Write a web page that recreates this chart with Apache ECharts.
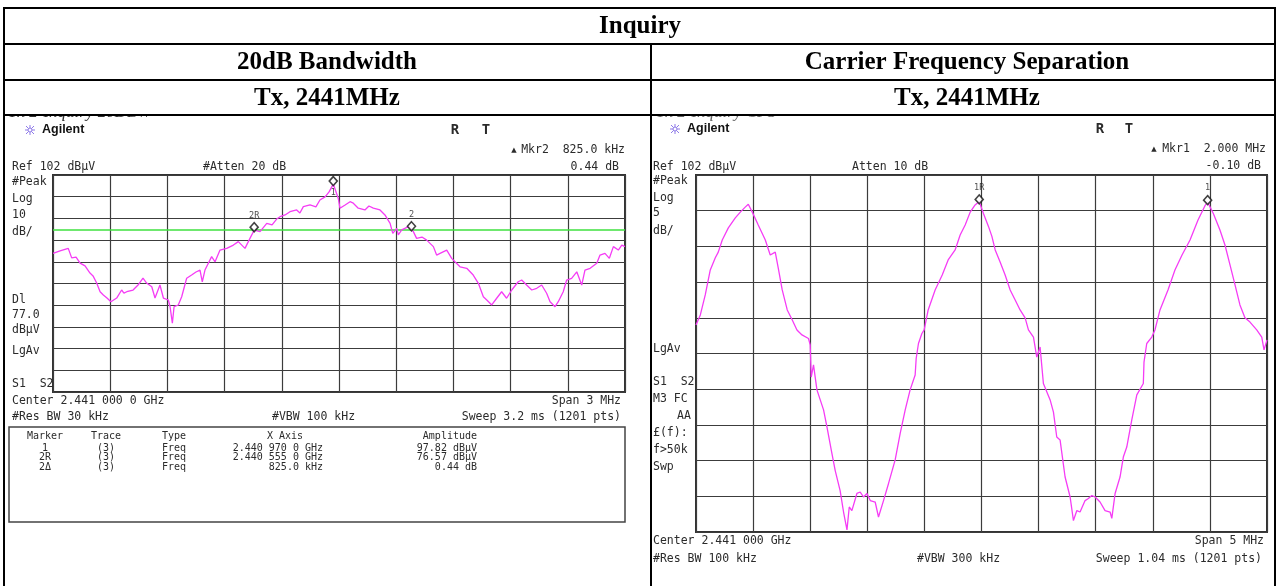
<!DOCTYPE html>
<html>
<head>
<meta charset="utf-8">
<script src="https://cdn.jsdelivr.net/npm/echarts@6/dist/echarts.min.js"></script>
<style>
  html, body { margin: 0; padding: 0; background: #fff; }
  #chart { width: 1278px; height: 586px; }
</style>
</head>
<body>
<div id="chart"></div>
<script>
// 20 dB bandwidth sweep: offset from 2.441 GHz centre (kHz) and level (dBµV)
const bwFreq = [-1500,-1463,-1420,-1402,-1379,-1358,-1332,-1306,-1290,-1271,
  -1253,-1236,-1217,-1196,-1166,-1140,-1128,-1113,-1080,-1054,
  -1028,-1009,-982,-965,-939,-921,-895,-886,-874,-865,
  -843,-825,-799,-773,-750,-729,-717,-703,-668,-650,
  -624,-589,-554,-528,-493,-467,-445,-414,-379,-351,
  -327,-309,-283,-257,-222,-205,-187,-152,-121,-100,
  -73,-52,-30,-4,5,32,58,75,101,136,
  157,180,215,241,268,282,303,311,329,364,
  380,390,407,435,460,495,512,530,565,591,
  608,635,670,704,731,757,775,801,827,853,
  879,906,940,958,984,1011,1037,1063,1089,1107,
  1133,1150,1176,1194,1220,1247,1273,1290,1317,1352,
  1369,1395,1418,1439,1465,1483,1500];
const bwLevel = [65.9,67.0,68.2,63.8,64.2,61.4,60.1,56.8,55.5,52.2,
  48.2,46.7,45.3,43.6,45.3,49.0,47.6,48.2,49.0,51.3,
  54.5,52.2,50.5,45.3,51.3,45.3,44.4,41.3,33.7,41.3,
  42.1,45.9,54.4,55.9,57.3,58.2,52.8,58.2,64.4,62.0,
  67.4,68.2,69.7,71.3,68.2,72.8,76.57,75.9,79.7,79.0,
  81.7,82.8,83.6,85.1,85.9,84.5,87.4,88.2,87.3,90.5,
  91.9,94.2,97.82,91.3,86.7,88.2,89.7,89.0,86.7,85.9,
  87.7,86.7,85.9,83.6,79.7,75.1,77.4,74.4,76.7,78.2,
  77.01,75.9,72.8,73.4,72.0,69.0,65.1,65.9,67.4,63.6,
  62.0,59.7,59.0,55.9,52.1,45.9,44.4,42.1,45.2,48.2,
  45.2,49.0,52.8,53.6,51.3,49.0,49.8,51.3,47.5,43.6,
  41.3,43.6,48.2,53.6,54.4,57.4,51.3,58.2,59.0,61.3,
  65.1,65.9,63.6,69.0,67.4,69.7,69.0];

// Carrier frequency separation sweep: offset from 2.441 GHz (kHz) and level (dBµV)
const sepFreq = [-2500,-2462,-2419,-2375,-2331,-2305,-2270,-2217,-2156,-2112,
  -2069,-2042,-2007,-1955,-1893,-1850,-1806,-1780,-1745,-1701,
  -1657,-1616,-1572,-1515,-1500,-1491,-1471,-1441,-1383,-1353,
  -1310,-1281,-1238,-1208,-1178,-1158,-1135,-1091,-1062,-1033,
  -1003,-974,-931,-902,-858,-814,-756,-712,-668,-625,
  -581,-572,-552,-522,-502,-467,-406,-344,-292,-231,
  -187,-143,-99,-56,-20,17,61,91,120,163,
  207,251,295,338,382,411,455,484,513,542,
  557,601,630,659,688,732,776,805,835,863,
  907,936,966,995,1038,1082,1126,1141,1170,1213,
  1242,1272,1316,1360,1417,1423,1447,1491,1519,1563,
  1633,1694,1756,1826,1896,1957,1980,2030,2088,2132,
  2176,2220,2263,2307,2351,2410,2454,2474,2500];
const sepLevel = [81.0,82.4,85.2,88.7,90.4,91.2,92.9,94.6,96.0,96.8,
  97.5,97.9,96.8,95.0,92.9,90.8,91.2,89.0,85.9,83.1,
  81.7,80.3,79.6,79.1,78.2,73.7,75.4,71.9,69.1,66.7,
  63.0,60.6,57.8,54.8,52.3,55.5,55.0,57.4,57.6,56.9,
  57.4,56.4,56.2,54.1,56.4,58.8,62.1,65.8,69.1,71.9,
  74.0,76.3,78.4,79.8,80.3,83.1,85.9,88.0,90.1,91.5,
  93.6,95.0,96.8,97.8,98.3,96.6,94.8,93.4,91.5,89.8,
  88.0,85.9,84.5,83.1,82.0,80.3,79.3,76.5,77.9,72.8,
  73.0,70.5,68.8,65.3,64.9,59.7,56.9,53.6,55.0,54.8,
  56.4,56.7,57.1,56.9,56.2,55.0,54.8,53.9,57.4,59.7,
  62.5,63.9,67.7,71.2,72.8,75.8,78.4,79.3,80.3,83.1,
  85.9,88.7,90.8,92.9,95.7,97.7,98.2,96.6,94.3,92.2,
  89.4,86.6,83.8,82.0,81.4,80.3,79.3,77.5,78.9];

// Markers
const bwMarkerNames = ['2R', '1', '2'];
const bwMarkerFreq = [-445, -30, 380];
const bwMarkerLevel = [76.57, 97.82, 77.01];
const sepMarkerNames = ['1R', '1'];
const sepMarkerFreq = [-20, 1980];
const sepMarkerLevel = [98.30, 98.20];
const bwDisplayLine = 77.0;

// Analyzer scale settings
const bwRef = 102, bwDiv = 10, bwSpan = 3000, bwFreqDiv = 300;
const sepRef = 102, sepDiv = 5, sepSpan = 5000, sepFreqDiv = 500;

// Marker table rows
const markerTable = [
  ['Marker', 'Trace', 'Type', 'X Axis', 'Amplitude'],
  ['1', '(3)', 'Freq', '2.440 970 0 GHz', '97.82 dBµV'],
  ['2R', '(3)', 'Freq', '2.440 555 0 GHz', '76.57 dBµV'],
  ['2\u0394', '(3)', 'Freq', '825.0 kHz', '0.44 dB']
];

const MONO = '11.5px "DejaVu Sans Mono"';
const SMALL = '10px "DejaVu Sans Mono"';
const INK = '#2b2b2b';
const TRACE = '#f53cf5';

function txt(x, y, s, o) {
  o = o || {};
  return {
    type: 'text', x: x, y: y, z: o.z || 20, silent: true,
    style: {
      text: s, fill: o.fill || INK, font: o.font || MONO,
      textAlign: o.align || 'left', textVerticalAlign: 'middle', verticalAlign: 'middle'
    }
  };
}
function hline(x1, x2, y, w, c) {
  return { type: 'line', z: 30, silent: true, shape: { x1: x1, y1: y, x2: x2, y2: y }, style: { stroke: c || '#000', lineWidth: w } };
}
function vline(x, y1, y2, w, c) {
  return { type: 'line', z: 30, silent: true, shape: { x1: x, y1: y1, x2: x, y2: y2 }, style: { stroke: c || '#000', lineWidth: w } };
}
function logo(cx, cy) {
  const els = [];
  const c = '#8f7be8';
  [[-5, 0, 5, 0], [0, -5, 0, 5], [-4, -4, 4, 4], [-4, 4, 4, -4]].forEach(function (p) {
    els.push({ type: 'line', z: 20, silent: true, shape: { x1: cx + p[0], y1: cy + p[1], x2: cx + p[2], y2: cy + p[3] }, style: { stroke: c, lineWidth: 1 } });
  });
  els.push({ type: 'circle', z: 21, silent: true, shape: { cx: cx, cy: cy, r: 2 }, style: { fill: '#fff', stroke: c, lineWidth: 1 } });
  return els;
}

const HEAD = 'bold 25px "Liberation Serif"';

const graphics = [
  // table frame
  hline(3, 1276, 8, 2), hline(3, 1276, 44, 2), hline(3, 1276, 80, 2), hline(3, 1276, 115, 2),
  vline(4, 7, 586, 2), vline(1275, 7, 586, 2), vline(651, 44, 586, 2),
  txt(640, 27, 'Inquiry', { font: HEAD, align: 'center', fill: '#000' }),
  txt(327, 63, '20dB Bandwidth', { font: HEAD, align: 'center', fill: '#000' }),
  txt(967, 63, 'Carrier Frequency Separation', { font: HEAD, align: 'center', fill: '#000' }),
  txt(327, 99, 'Tx, 2441MHz', { font: HEAD, align: 'center', fill: '#000' }),
  txt(967, 99, 'Tx, 2441MHz', { font: HEAD, align: 'center', fill: '#000' }),
  // screenshot captions, mostly hidden under the row line
  txt(8, 113, 'Tx 2-Inquiry 20DBW', { font: 'italic 17px "Liberation Serif"', fill: '#333', z: 5 }),
  txt(656, 113, 'Tx 2-Inquiry CFS', { font: 'italic 17px "Liberation Serif"', fill: '#666', z: 5 }),
  { type: 'rect', z: 6, silent: true, shape: { x: 5, y: 96, width: 210, height: 20 }, style: { fill: '#fff' } },
  { type: 'rect', z: 6, silent: true, shape: { x: 653, y: 96, width: 200, height: 20 }, style: { fill: '#fff' } },

  // ---- left analyzer screen ----
  txt(42, 130, 'Agilent', { font: 'bold 12.5px "Liberation Sans"', fill: '#111' }),
  txt(455, 130, 'R', { font: 'bold 14px "DejaVu Sans Mono"', align: 'center' }),
  txt(486, 130, 'T', { font: 'bold 14px "DejaVu Sans Mono"', align: 'center' }),
  txt(514, 150, '\u25B2', { font: '7px "DejaVu Sans"', align: 'center' }),
  txt(625, 150, 'Mkr2  825.0 kHz', { align: 'right' }),
  txt(619, 167, '0.44 dB', { align: 'right' }),
  txt(12, 167, 'Ref 102 dBµV'),
  txt(203, 167, '#Atten 20 dB'),
  txt(12, 182, '#Peak'), txt(12, 199, 'Log'), txt(12, 215, '10'), txt(12, 232, 'dB/'),
  txt(12, 300, 'Dl'), txt(12, 315, '77.0'), txt(12, 330, 'dBµV'), txt(12, 351, 'LgAv'),
  txt(12, 384, 'S1  S2'),
  txt(12, 401.5, 'Center 2.441 000 0 GHz'),
  txt(621, 401.5, 'Span 3 MHz', { align: 'right' }),
  txt(12, 417, '#Res BW 30 kHz'),
  txt(272, 417, '#VBW 100 kHz'),
  txt(621, 417, 'Sweep 3.2 ms (1201 pts)', { align: 'right' }),
  { type: 'rect', z: 15, silent: true, shape: { x: 9, y: 427, width: 616, height: 95 }, style: { fill: 'none', stroke: '#444', lineWidth: 1.5 } },

  // ---- right analyzer screen ----
  txt(687, 129, 'Agilent', { font: 'bold 12.5px "Liberation Sans"', fill: '#111' }),
  txt(1100, 129, 'R', { font: 'bold 14px "DejaVu Sans Mono"', align: 'center' }),
  txt(1129, 129, 'T', { font: 'bold 14px "DejaVu Sans Mono"', align: 'center' }),
  txt(1154, 149, '\u25B2', { font: '7px "DejaVu Sans"', align: 'center' }),
  txt(1266, 149, 'Mkr1  2.000 MHz', { align: 'right' }),
  txt(1261, 166, '-0.10 dB', { align: 'right' }),
  txt(653, 167, 'Ref 102 dBµV'),
  txt(852, 167, 'Atten 10 dB'),
  txt(653, 181, '#Peak'), txt(653, 198, 'Log'), txt(653, 213, '5'), txt(653, 231, 'dB/'),
  txt(653, 349, 'LgAv'), txt(653, 382, 'S1  S2'), txt(653, 399, 'M3 FC'), txt(677, 416, 'AA'),
  txt(653, 433, '£(f):'), txt(653, 450, 'f>50k'), txt(653, 467, 'Swp'),
  txt(653, 541.5, 'Center 2.441 000 GHz'),
  txt(1264, 541.5, 'Span 5 MHz', { align: 'right' }),
  txt(653, 559, '#Res BW 100 kHz'),
  txt(917, 559, '#VBW 300 kHz'),
  txt(1262, 559, 'Sweep 1.04 ms (1201 pts)', { align: 'right' })
].concat(logo(30, 130), logo(675, 129));

// marker table text
const colX = [45, 106, 162, 323, 477];
const colAlign = ['center', 'center', 'left', 'right', 'right'];
const rowY = [436, 448, 457.5, 467];
markerTable.forEach(function (row, r) {
  row.forEach(function (cell, c) {
    let x = colX[c], a = colAlign[c];
    if (r === 0 && c === 3) { x = 285; a = 'center'; }
    graphics.push(txt(x, rowY[r], cell, { font: SMALL, align: a }));
  });
});

function pairs(xs, ys) { return xs.map(function (x, i) { return [x, ys[i]]; }); }

function axisPair(gi, span, fdiv, ref, div) {
  const split = { show: true, lineStyle: { color: '#3c3c3c', width: 1.2 } };
  return {
    x: { gridIndex: gi, type: 'value', min: -span / 2, max: span / 2, interval: fdiv,
         axisLabel: { show: false }, axisTick: { show: false }, axisLine: { show: false }, splitLine: split },
    y: { gridIndex: gi, type: 'value', min: ref - 10 * div, max: ref, interval: div,
         axisLabel: { show: false }, axisTick: { show: false }, axisLine: { show: false }, splitLine: split }
  };
}
const axL = axisPair(0, bwSpan, bwFreqDiv, bwRef, bwDiv);
const axR = axisPair(1, sepSpan, sepFreqDiv, sepRef, sepDiv);

function markerSeries(xi, names, fs, ls, labelPos, offset) {
  return {
    type: 'scatter', xAxisIndex: xi, yAxisIndex: xi, z: 10, silent: true,
    symbol: 'diamond', symbolSize: [8, 9], symbolOffset: [0, offset],
    itemStyle: { color: '#fff', borderColor: '#111', borderWidth: 1.6 },
    data: names.map(function (n, i) {
      return { value: [fs[i], ls[i]], name: n,
        label: { show: true, formatter: n, position: labelPos[i], distance: 2,
                 fontSize: 8.5, fontFamily: 'DejaVu Sans Mono', color: '#222' } };
    })
  };
}

const chart = echarts.init(document.getElementById('chart'), null, { renderer: 'canvas' });
chart.setOption({
  animation: false,
  backgroundColor: '#fff',
  grid: [
    { left: 53, top: 175, width: 572, height: 217, show: true, borderColor: '#333', borderWidth: 2, backgroundColor: 'transparent' },
    { left: 696, top: 175, width: 571, height: 357, show: true, borderColor: '#333', borderWidth: 2, backgroundColor: 'transparent' }
  ],
  xAxis: [axL.x, axR.x],
  yAxis: [axL.y, axR.y],
  series: [
    {
      type: 'line', xAxisIndex: 0, yAxisIndex: 0, z: 5, silent: true,
      data: pairs(bwFreq, bwLevel), showSymbol: false, symbol: 'none',
      lineStyle: { color: TRACE, width: 1.3 },
      markLine: {
        silent: true, symbol: 'none', label: { show: false },
        lineStyle: { color: '#3fe03f', width: 1.6, type: 'solid' },
        data: [{ yAxis: bwDisplayLine }]
      }
    },
    {
      type: 'line', xAxisIndex: 1, yAxisIndex: 1, z: 5, silent: true,
      data: pairs(sepFreq, sepLevel), showSymbol: false, symbol: 'none',
      lineStyle: { color: TRACE, width: 1.3 }
    },
    markerSeries(0, bwMarkerNames, bwMarkerFreq, bwMarkerLevel, ['top', 'bottom', 'top'], -3),
    markerSeries(1, sepMarkerNames, sepMarkerFreq, sepMarkerLevel, ['top', 'top'], -2)
  ],
  graphic: graphics
});
</script>
</body>
</html>
